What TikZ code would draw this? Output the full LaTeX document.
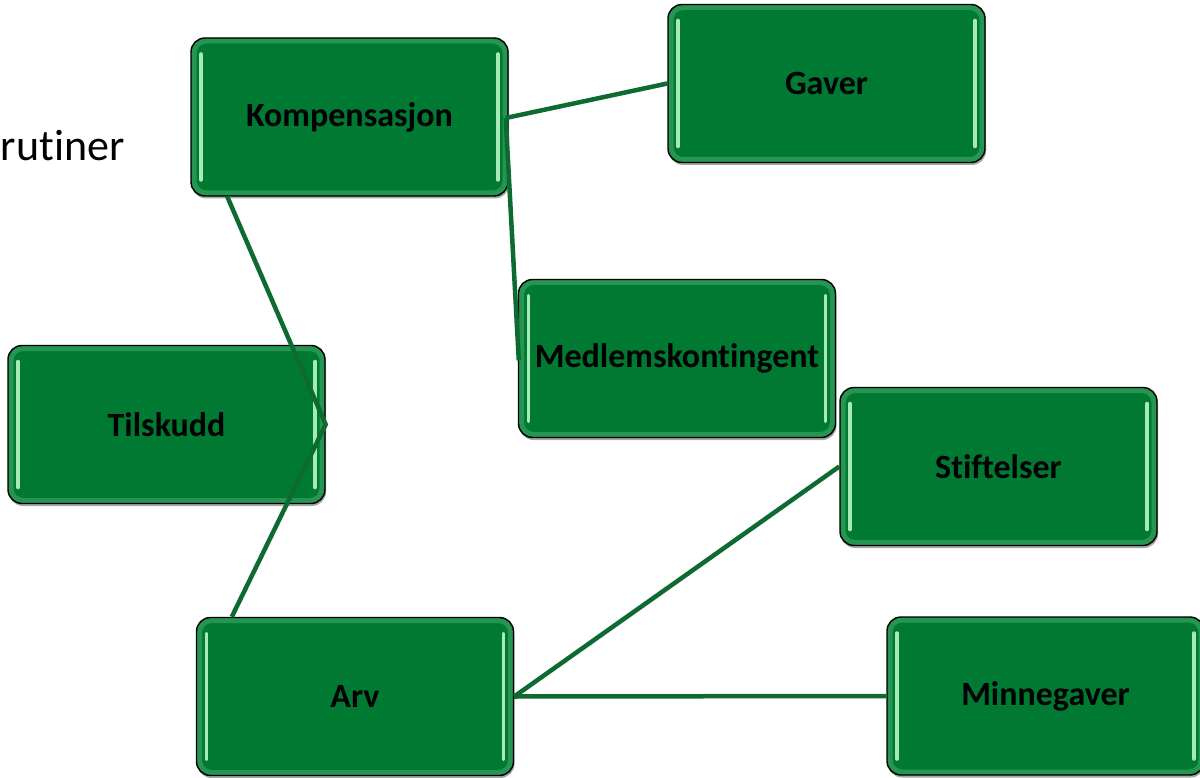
\documentclass[tikz,border=0pt]{standalone}
\usepackage{fontspec}
\setmainfont[Ligatures={NoCommon}]{Carlito}
\usetikzlibrary{calc,shadows}
\definecolor{boxgreen}{HTML}{007A33}
\definecolor{glowgreen}{HTML}{3FA866}
\definecolor{stripegreen}{HTML}{A6EBB5}
\definecolor{linkgreen}{HTML}{0D6A30}
\tikzset{
  gbox/.style={draw=black, line width=1.4pt, fill=boxgreen, rounded corners=14pt,
    minimum width=317pt, minimum height=158pt, inner sep=0pt,
    font=\bfseries\fontsize{34}{40}\selectfont, text=black,
    drop shadow={shadow xshift=1pt, shadow yshift=-2.5pt, opacity=0.35, fill=black},
    path picture={
      \draw[glowgreen, line width=5pt, rounded corners=12pt, opacity=0.6]
        ($(path picture bounding box.north west)+(3pt,-3pt)$) rectangle
        ($(path picture bounding box.south east)+(-3pt,3pt)$);
      \draw[stripegreen, line width=3.5pt, line cap=round]
        ($(path picture bounding box.north west)+(10pt,-16pt)$) --
        ($(path picture bounding box.south west)+(10pt,16pt)$);
      \draw[stripegreen, line width=3.5pt, line cap=round]
        ($(path picture bounding box.north east)+(-10pt,-16pt)$) --
        ($(path picture bounding box.south east)+(-10pt,16pt)$);
    }},
  link/.style={draw=linkgreen, line width=4.5pt}
}
\begin{document}
\begin{tikzpicture}[x=1pt,y=-1pt]
\clip (0,0) rectangle (1200,778);
\useasboundingbox (0,0) rectangle (1200,778);
\node[anchor=base east, font=\fontsize{44}{50}\selectfont, text=black] (rut) at (128,161) {rutiner};
\node[gbox] (komp) at (349.5,117) {Kompensasjon};
\node[gbox] (gaver) at (826.5,83.5) {Gaver};
\node[gbox] (medl) at (677,358.5) {Medlemskontingent};
\node[gbox] (tils) at (166.5,424.5) {Tilskudd};
\node[gbox] (stif) at (998.5,466.5) {Stiftelser};
\node[gbox] (arv) at (355,696.5) {Arv};
\node[gbox] (minn) at (1045.5,696) {Minnegaver};
\draw[link] ($(komp.east)+(-3,1)$) -- (gaver.west);
\draw[link] ($(komp.east)+(-3,1)$) -- ($(medl.west)+(1,2)$);
\draw[link] ($(komp.south west)+(37,0)$) -- (tils.east) -- ($(arv.north west)+(36,0)$);
\draw[link] (arv.east) -- (stif.west);
\draw[link] (arv.east) -- (minn.west);
\end{tikzpicture}
\end{document}
